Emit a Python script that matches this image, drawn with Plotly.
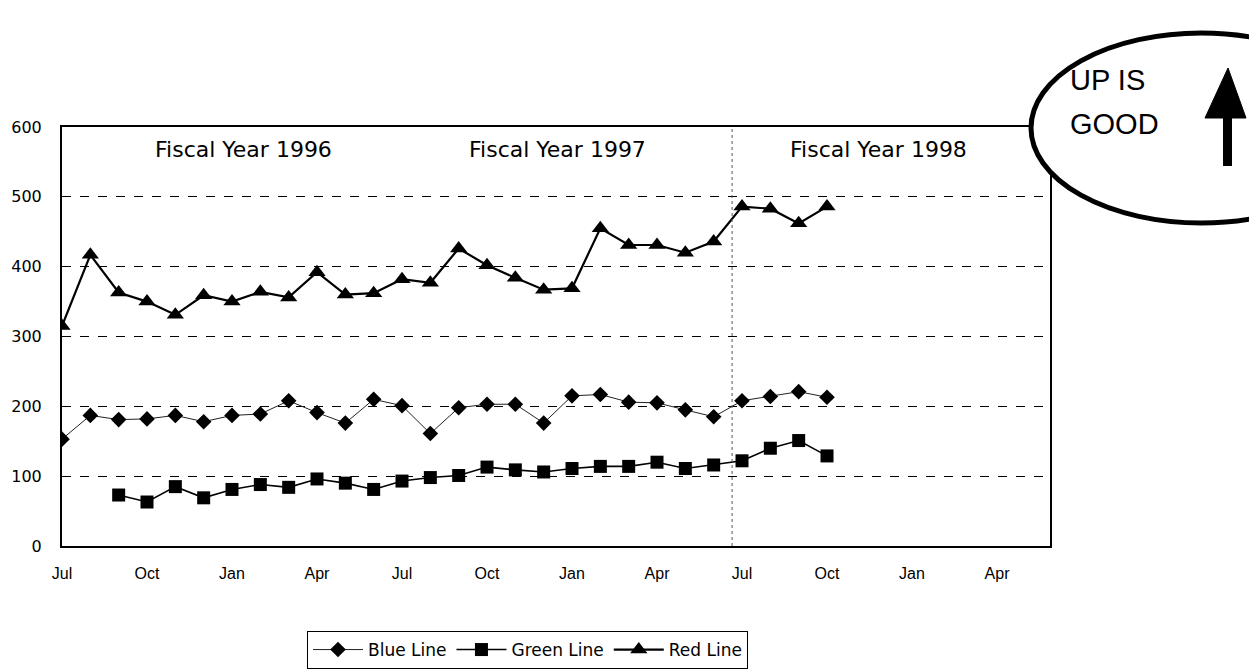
import plotly.graph_objects as go

# ---- data ----
months = ["Jul", "Aug", "Sep", "Oct", "Nov", "Dec", "Jan", "Feb", "Mar", "Apr", "May", "Jun"] * 3
tick_labels = ["Jul", "Oct", "Jan", "Apr", "Jul", "Oct", "Jan", "Apr", "Jul", "Oct", "Jan", "Apr"]
fiscal_years = ["Fiscal Year 1996", "Fiscal Year 1997", "Fiscal Year 1998"]

blue_line = [153, 187, 181, 182, 187, 178, 187, 189, 208, 191, 176, 210, 201, 161,
             198, 203, 203, 176, 215, 217, 206, 205, 195, 185, 208, 214, 221, 213]
green_line = [None, None, 73, 63, 85, 69, 81, 88, 84, 96, 90, 81, 93, 98,
              101, 113, 109, 106, 111, 114, 114, 120, 111, 116, 122, 140, 151, 129]
red_line = [315, 417, 363, 350, 331, 359, 350, 364, 356, 392, 360, 362, 382, 377,
            426, 402, 384, 367, 369, 455, 431, 431, 420, 436, 486, 483, 462, 486]

idx = list(range(len(blue_line)))
tick_pos = list(range(0, len(months), 3))

FONT = "Liberation Sans, Arial, sans-serif"
WIDE = "DejaVu Sans, sans-serif"

# figure geometry
W, H = 1249, 671
ML, MR, MT, MB = 62, 199, 127, 125
PW, PH = W - ML - MR, H - MT - MB


def px_x(x):
    return (x - ML) / PW


def px_y(y):
    return (H - MB - y) / PH


fig = go.Figure()

fig.add_trace(go.Scatter(x=idx, y=blue_line, name="Blue Line", mode="lines+markers",
                         line=dict(color="#222222", width=1),
                         marker=dict(symbol="diamond", size=12, color="black")))
fig.add_trace(go.Scatter(x=idx, y=green_line, name="Green Line", mode="lines+markers",
                         line=dict(color="black", width=1.6),
                         marker=dict(symbol="square", size=13, color="black")))
fig.add_trace(go.Scatter(x=idx, y=red_line, name="Red Line", mode="lines+markers",
                         line=dict(color="black", width=2.2),
                         marker=dict(symbol="triangle-up", size=15, color="black")))

# fiscal year labels
for label, xc in zip(fiscal_years, [6.4, 17.5, 28.8]):
    fig.add_annotation(x=xc, y=568, text=label, showarrow=False, xref="x", yref="y",
                       font=dict(family=WIDE, size=22, color="black"),
                       xanchor="center", yanchor="middle")

# fiscal year divider
fig.add_shape(type="line", xref="x", yref="y", x0=23.65, x1=23.65, y0=0, y1=600,
              line=dict(color="#555555", width=1, dash="dot"))

# "UP IS GOOD" ellipse
fig.add_shape(type="circle", xref="paper", yref="paper",
              x0=px_x(1031), x1=px_x(1372), y0=px_y(223), y1=px_y(33),
              line=dict(color="black", width=5), fillcolor="white", layer="above")
fig.add_annotation(xref="paper", yref="paper", x=px_x(1068), y=px_y(80), text="UP IS",
                   showarrow=False, xanchor="left", yanchor="middle",
                   font=dict(family=FONT, size=29, color="black"))
fig.add_annotation(xref="paper", yref="paper", x=px_x(1068), y=px_y(124), text="GOOD",
                   showarrow=False, xanchor="left", yanchor="middle",
                   font=dict(family=FONT, size=29, color="black"))
# arrow
fig.add_shape(type="path", xref="paper", yref="paper", layer="above",
              path=f"M {px_x(1205)} {px_y(118)} L {px_x(1228)} {px_y(68)} L {px_x(1246)} {px_y(118)} Z",
              fillcolor="black", line=dict(color="black", width=1))
fig.add_shape(type="rect", xref="paper", yref="paper", layer="above",
              x0=px_x(1223), x1=px_x(1232), y0=px_y(166), y1=px_y(116),
              fillcolor="black", line=dict(color="black", width=0))

fig.update_layout(
    width=W, height=H,
    margin=dict(l=ML, r=MR, t=MT, b=MB, autoexpand=False),
    paper_bgcolor="white", plot_bgcolor="white",
    showlegend=True,
    legend=dict(orientation="h", x=px_x(307), y=px_y(650), xanchor="left", yanchor="middle",
                bordercolor="black", borderwidth=1, bgcolor="white",
                font=dict(family=WIDE, size=17, color="black"),
                itemwidth=50, tracegroupgap=0),
    font=dict(family=FONT, color="black"),
)

fig.update_xaxes(range=[0, 34.87], tickvals=tick_pos, ticktext=tick_labels,
                 showgrid=False, zeroline=False, showline=True, linecolor="black",
                 linewidth=2, mirror=True, ticks="", ticklabelstandoff=12,
                 tickfont=dict(family=FONT, size=16, color="black"))
fig.update_yaxes(range=[0, 600], tickvals=[0, 100, 200, 300, 400, 500, 600],
                 showgrid=True, gridcolor="black", gridwidth=1, griddash="dash",
                 zeroline=False, showline=True, linecolor="black", linewidth=2,
                 mirror=True, ticks="", ticklabelstandoff=15,
                 tickfont=dict(family=WIDE, size=16, color="black"))

fig.write_html("out.html")
